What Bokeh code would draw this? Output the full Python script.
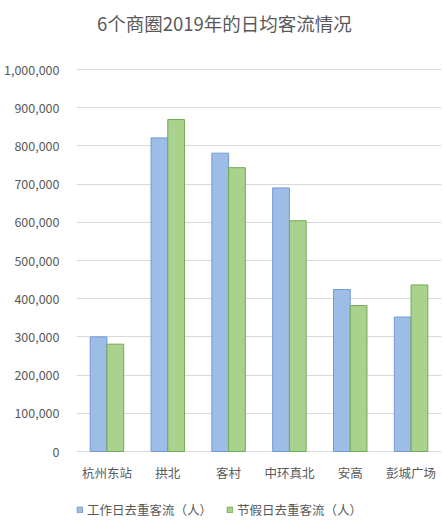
from bokeh.plotting import figure
from bokeh.models import (FactorRange, Range1d, FixedTicker, NumeralTickFormatter,
                          ColumnDataSource, Legend, LegendItem)
from bokeh.core.properties import value
from bokeh.transform import dodge
from bokeh.embed import file_html
from bokeh.resources import INLINE

title_text = "6个商圈2019年的日均客流情况"
categories = ["杭州东站", "拱北", "客村", "中环真北", "安高", "彭城广场"]
workday = [300000, 821000, 781000, 690000, 424000, 352000]
holiday = [281000, 869000, 743000, 604000, 382000, 436000]
series_names = ["工作日去重客流（人）", "节假日去重客流（人）"]
y_ticks = list(range(0, 1000001, 100000))

CJK = "Noto Sans CJK SC"
TXT = "#595959"

# layout (pixels)
W, H = 443, 525
LEFT, RIGHT = 72, 2
Y_TOP_PX, Y_ZERO_PX = 69, 451          # pixel rows of 1,000,000 and 0
PX_PER_UNIT = (Y_ZERO_PX - Y_TOP_PX) / 1000000
y_end = 1000000 + Y_TOP_PX / PX_PER_UNIT
y_start = -(H - Y_ZERO_PX) / PX_PER_UNIT
cat_px = (W - LEFT - RIGHT) / len(categories)

def y_at(px):
    return (Y_ZERO_PX - px) / PX_PER_UNIT

src = ColumnDataSource(dict(cat=categories, work=workday, hol=holiday))

p = figure(width=W, height=H, x_range=FactorRange(*categories),
           y_range=Range1d(y_start, y_end), output_backend="svg",
           toolbar_location=None, min_border_left=LEFT, min_border_right=RIGHT,
           min_border_top=0, min_border_bottom=0)
p.outline_line_color = None
p.background_fill_color = "white"
p.border_fill_color = "white"
p.x_range.range_padding = 0

w = 0.275
r1 = p.vbar(x=dodge("cat", -w / 2, range=p.x_range), top="work", width=w,
            source=src, fill_color="#9ebde6", line_color="#6f9bd6", line_width=1)
r2 = p.vbar(x=dodge("cat", w / 2, range=p.x_range), top="hol", width=w,
            source=src, fill_color="#a9d28e", line_color="#72aa50", line_width=1)

# category labels
p.text(x="cat", y=y_at(472), text="cat", source=src, text_font=value(CJK),
       text_font_size="12.5px", text_color=TXT, text_align="center",
       text_baseline="middle")

# title
p.text(x=[(W / 2 - LEFT) / cat_px], y=[y_at(22)], text=[title_text],
       text_font=value(CJK), text_font_size="18.5px", text_color=TXT,
       text_align="center", text_baseline="middle")

p.xaxis.visible = False
p.xgrid.grid_line_color = None
p.ygrid.grid_line_color = "#d9d9d9"
p.ygrid.grid_line_width = 1
p.ygrid.ticker = FixedTicker(ticks=y_ticks)

ya = p.yaxis[0]
ya.ticker = FixedTicker(ticks=y_ticks)
ya.formatter = NumeralTickFormatter(format="0,0")
ya.axis_line_color = None
ya.major_tick_line_color = None
ya.minor_tick_line_color = None
ya.major_label_standoff = 11
ya.major_label_text_font = CJK
ya.major_label_text_font_size = "12.5px"
ya.major_label_text_color = TXT

legend = Legend(items=[LegendItem(label=series_names[0], renderers=[r1]),
                       LegendItem(label=series_names[1], renderers=[r2])],
                orientation="horizontal", location=(0, 6),
                label_text_font=CJK, label_text_font_size="12.5px",
                label_text_color=TXT, glyph_width=7, glyph_height=7,
                label_standoff=4, spacing=14, border_line_color=None,
                background_fill_alpha=0, margin=0, padding=0)
p.add_layout(legend, "center")

open("out.html", "w").write(file_html(p, INLINE))
